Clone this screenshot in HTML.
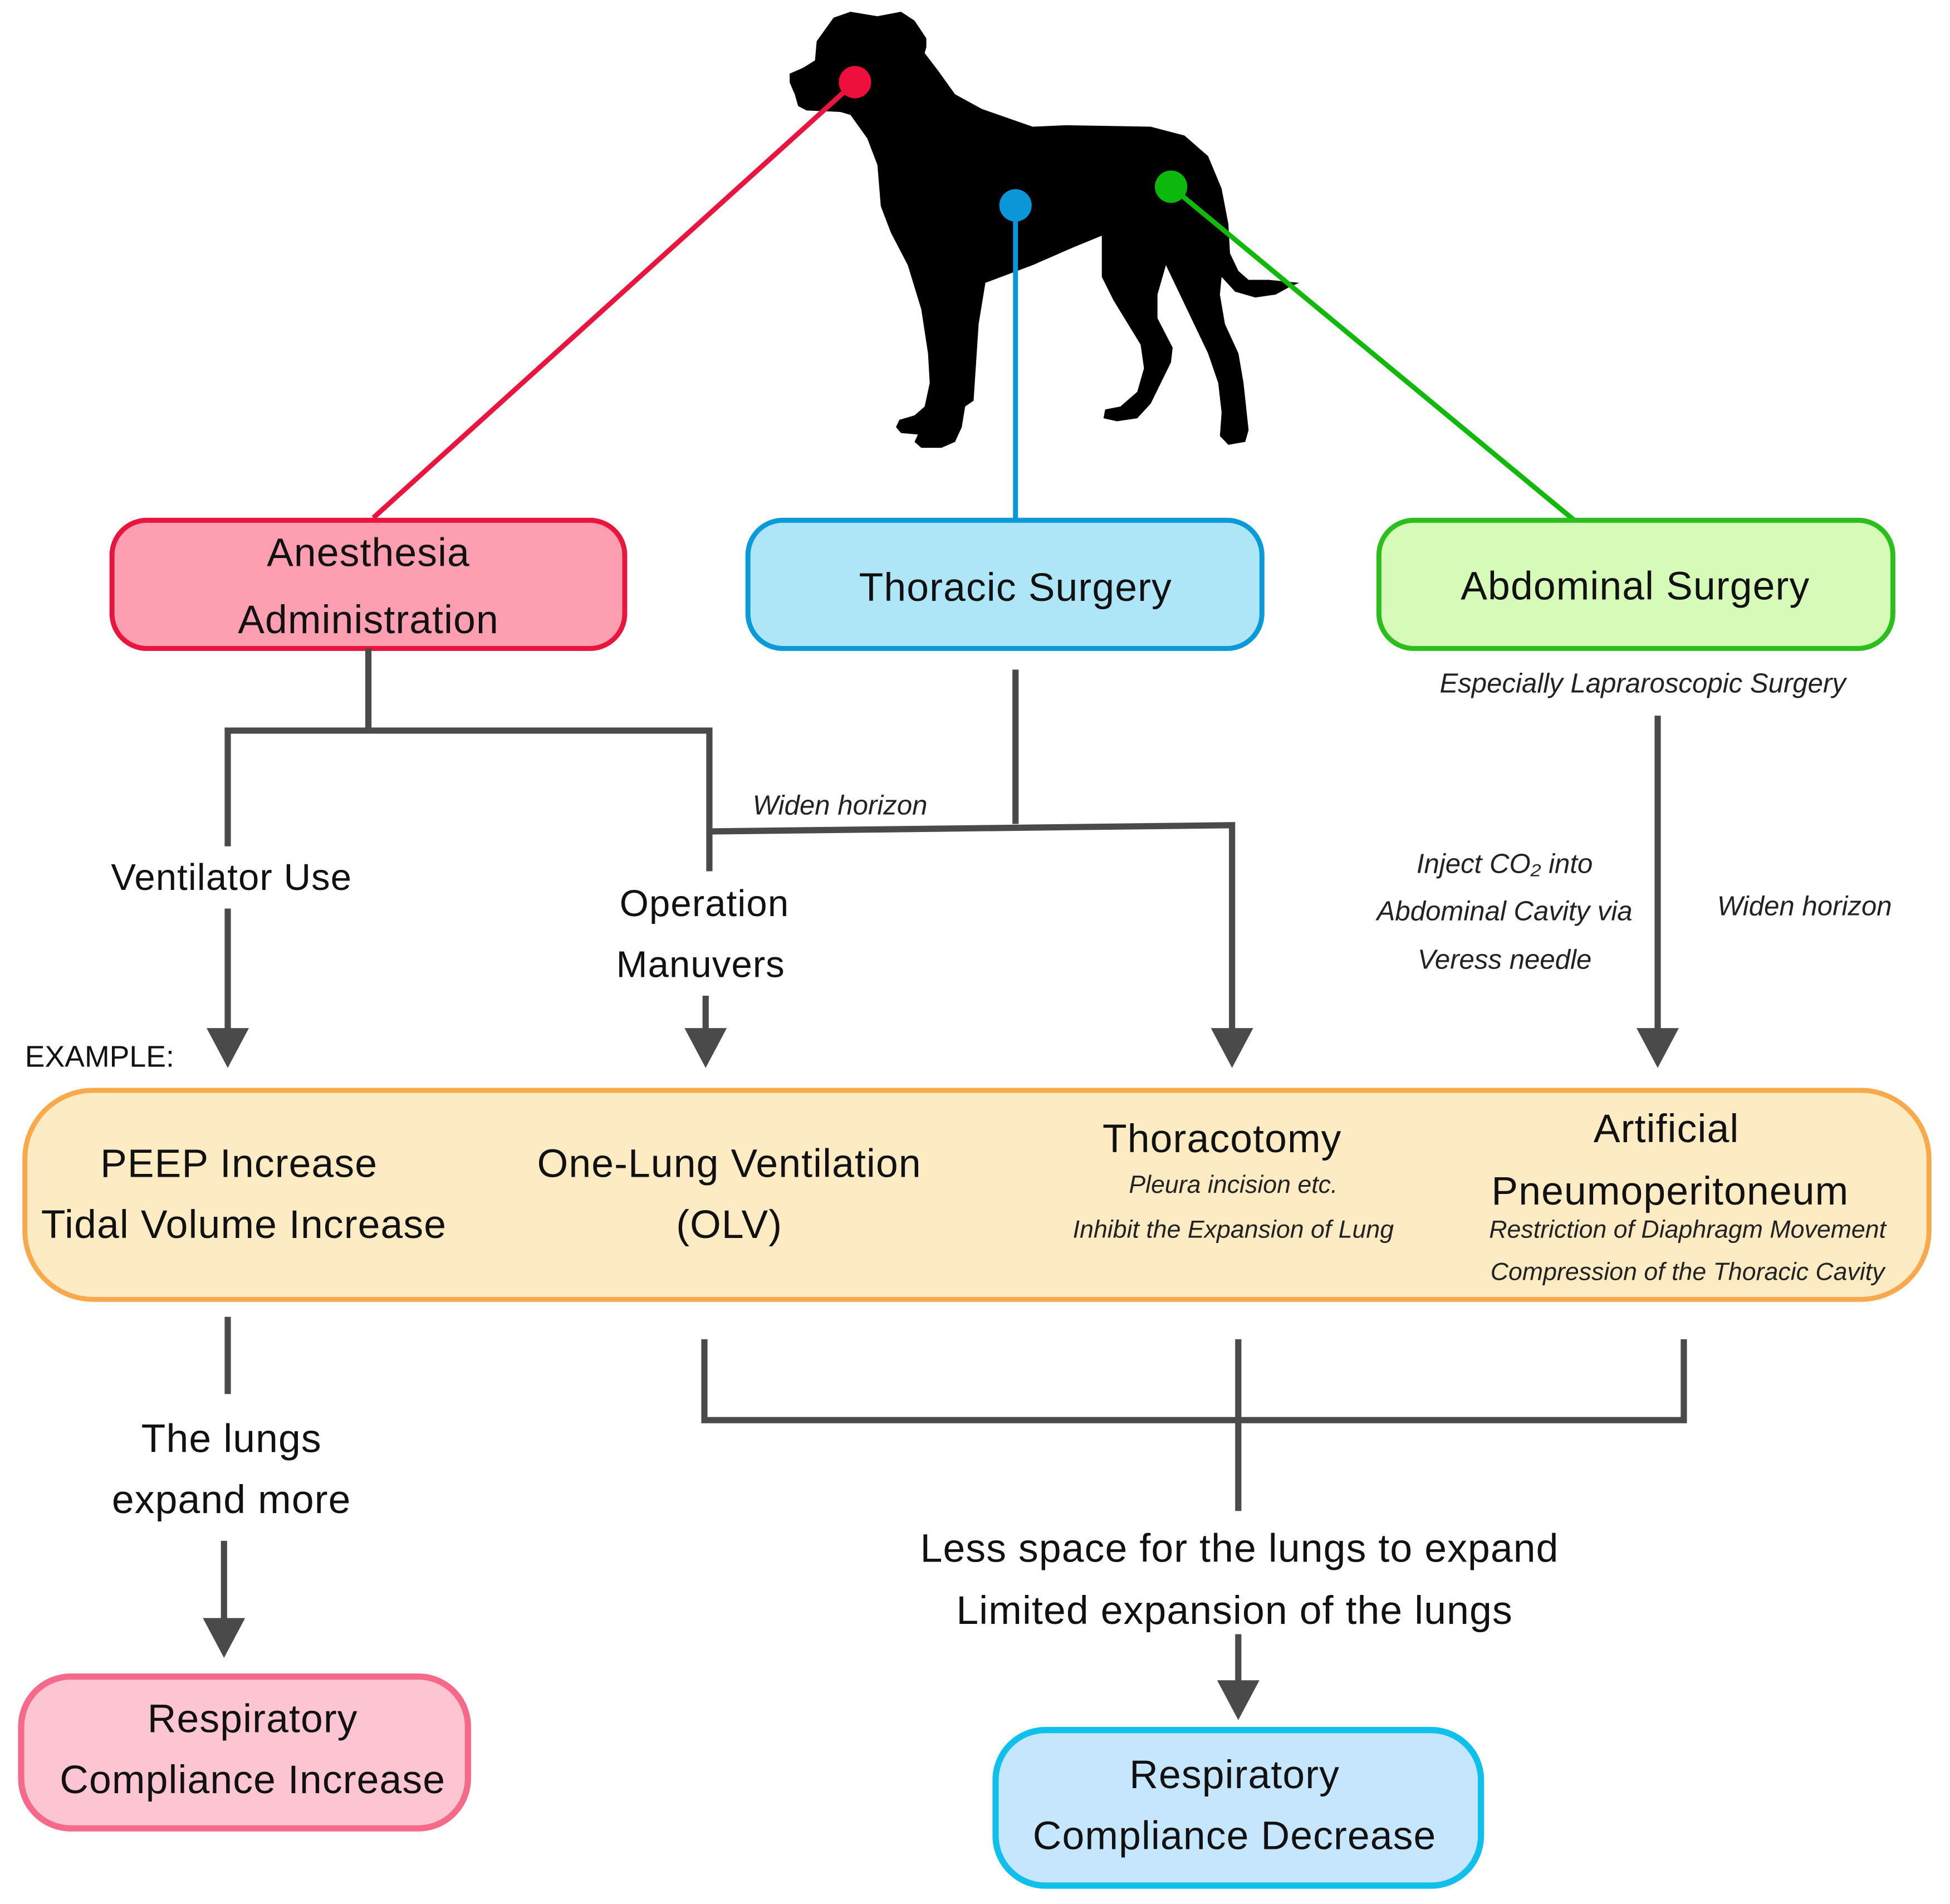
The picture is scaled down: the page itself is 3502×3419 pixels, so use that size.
<!DOCTYPE html>
<html><head><meta charset="utf-8"><style>
html,body{margin:0;padding:0;background:#fff;}
svg{display:block;}
text{font-family:"Liberation Sans",sans-serif;fill:#111;}
.m{font-size:32px;letter-spacing:0.5px;text-anchor:middle;dominant-baseline:central;}
.i{font-size:22px;font-style:italic;text-anchor:middle;dominant-baseline:central;fill:#222;}
</style></head><body>
<svg width="3502" height="3419" viewBox="0 0 3502 3419" xmlns="http://www.w3.org/2000/svg">
<rect width="3502" height="3419" fill="#fff"/>
<g transform="translate(1400,0) scale(0.606,0.529)">
<path fill="#000" d="M30,250 L70,230 L105,205 L110,140 L160,60 L210,40 L290,55 L360,40 L400,70 L435,130 L435,160 L430,180 L470,240 L520,320 L600,370 L750,430 L850,425 L1100,430 L1200,460 L1270,530 L1310,640 L1330,760 L1335,860 L1360,920 L1390,950 L1450,950 L1540,960 L1510,975 L1470,1000 L1410,1010 L1350,990 L1310,940 L1305,1000 L1320,1100 L1360,1200 L1375,1300 L1390,1460 L1380,1500 L1330,1510 L1305,1480 L1310,1400 L1300,1300 L1270,1200 L1145,900 L1120,1000 L1120,1080 L1165,1180 L1160,1230 L1100,1370 L1060,1420 L1000,1430 L960,1420 L965,1390 L1010,1380 L1060,1330 L1080,1250 L1070,1170 L990,1020 L955,940 L955,800 L870,840 L750,900 L610,960 L590,1100 L575,1360 L550,1380 L540,1450 L520,1500 L480,1520 L420,1520 L400,1500 L410,1475 L360,1470 L345,1450 L355,1425 L400,1410 L430,1380 L445,1300 L440,1200 L420,1050 L380,900 L330,790 L300,700 L290,560 L260,470 L210,390 L180,380 L80,375 L55,360 L45,320 L30,280 Z"/>
</g>
<g transform="scale(2.235)">
<line x1="687" y1="66" x2="300" y2="416" stroke="#e8163f" stroke-width="4"/>
<circle cx="687" cy="66" r="13" fill="#ef0f3c"/>
<line x1="816" y1="165" x2="816" y2="418" stroke="#0a96d8" stroke-width="4"/>
<circle cx="816" cy="165" r="13" fill="#0a96d8"/>
<line x1="941" y1="150" x2="1265" y2="418" stroke="#13b80c" stroke-width="4"/>
<circle cx="941" cy="150" r="13" fill="#0cb80c"/>

<rect x="90" y="418" width="412" height="103" rx="28" fill="#fd9fb0" stroke="#e8163f" stroke-width="4"/>
<text class="m" x="296" y="444">Anesthesia</text>
<text class="m" x="296" y="498">Administration</text>
<rect x="601" y="418" width="413" height="103" rx="28" fill="#aee6f8" stroke="#0a9ad8" stroke-width="4"/>
<text class="m" x="816" y="472">Thoracic Surgery</text>
<rect x="1108" y="418" width="413" height="103" rx="28" fill="#d6fab8" stroke="#2cbd1e" stroke-width="4"/>
<text class="m" x="1314" y="471">Abdominal Surgery</text>
<text class="i" x="1320" y="549">Especially  Lapraroscopic Surgery</text>

<g stroke="#4a4a4a" stroke-width="5" fill="none">
<polyline points="296,521 296,587"/>
<polyline points="183,680 183,587 570,587 570,700"/>
<line x1="183" y1="730" x2="183" y2="830"/>
<line x1="567" y1="800" x2="567" y2="830"/>
<line x1="816" y1="538" x2="816" y2="662"/>
<polyline points="570,668 990,663 990,830"/>
<line x1="1332" y1="575" x2="1332" y2="830"/>
<line x1="183" y1="1058" x2="183" y2="1120"/>
<line x1="180" y1="1238" x2="180" y2="1305"/>
<polyline points="566,1076 566,1141 1353,1141 1353,1076"/>
<line x1="995" y1="1076" x2="995" y2="1214"/>
<line x1="995" y1="1313" x2="995" y2="1355"/>
</g>
<g fill="#4a4a4a">
<polygon points="166,826 200,826 183,858"/>
<polygon points="550,826 584,826 567,858"/>
<polygon points="973,826 1007,826 990,858"/>
<polygon points="1315,826 1349,826 1332,858"/>
<polygon points="163,1300 197,1300 180,1332"/>
<polygon points="978,1350 1012,1350 995,1382"/>
</g>
<text class="m" x="186" y="705" style="font-size:30px">Ventilator  Use</text>
<text class="m" x="566" y="726" style="font-size:30px">Operation</text>
<text class="m" x="563" y="775" style="font-size:30px">Manuvers</text>
<text class="i" x="675" y="647">Widen horizon</text>
<text class="i" x="1209" y="694">Inject CO₂ into</text>
<text class="i" x="1209" y="732">Abdominal Cavity via</text>
<text class="i" x="1209" y="771">Veress needle</text>
<text class="i" x="1450" y="728">Widen horizon</text>
<text x="20" y="849" style="font-size:24px;dominant-baseline:central">EXAMPLE:</text>

<rect x="20" y="876" width="1530" height="168" rx="55" fill="#fdebc4" stroke="#f8a94b" stroke-width="4"/>
<text class="m" x="192" y="935">PEEP Increase</text>
<text class="m" x="196" y="984">Tidal Volume Increase</text>
<text class="m" x="586" y="935">One-Lung Ventilation</text>
<text class="m" x="586" y="984">(OLV)</text>
<text class="m" x="982" y="915">Thoracotomy</text>
<text class="i" x="991" y="952" style="font-size:20px">Pleura incision etc.</text>
<text class="i" x="991" y="988" style="font-size:20px">Inhibit the Expansion of Lung</text>
<text class="m" x="1339" y="907">Artificial</text>
<text class="m" x="1342" y="957">Pneumoperitoneum</text>
<text class="i" x="1356" y="988" style="font-size:20px">Restriction of Diaphragm Movement</text>
<text class="i" x="1356" y="1022" style="font-size:20px">Compression of the Thoracic Cavity</text>

<text class="m" x="186" y="1156">The lungs</text>
<text class="m" x="186" y="1205">expand more</text>
<text class="m" x="996" y="1244">Less space for the lungs to expand</text>
<text class="m" x="992" y="1294">Limited expansion of the lungs</text>

<rect x="17" y="1347" width="359" height="122" rx="40" fill="#fdc5d1" stroke="#f56a8a" stroke-width="5"/>
<text class="m" x="203" y="1381">Respiratory</text>
<text class="m" x="203" y="1430">Compliance Increase</text>
<rect x="800" y="1390" width="390" height="125" rx="40" fill="#c5e6fc" stroke="#0fbfec" stroke-width="5"/>
<text class="m" x="992" y="1426">Respiratory</text>
<text class="m" x="992" y="1475">Compliance Decrease</text>
</g>
</svg>
</body></html>
